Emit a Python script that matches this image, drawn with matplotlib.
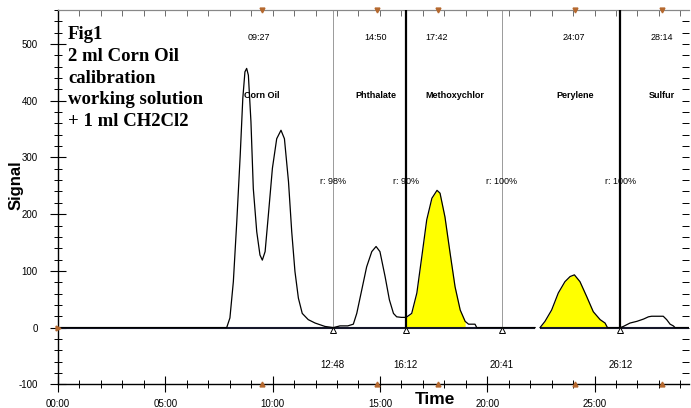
import numpy as np
import matplotlib.pyplot as plt
from matplotlib.ticker import MultipleLocator, FuncFormatter

plt.rcParams['font.family'] = ['Liberation Sans', 'DejaVu Sans']
plt.rcParams['axes.unicode_minus'] = False

# chromatogram: time (min) / signal
time_min = [0, 7.86, 8.01, 8.17, 8.33, 8.49, 8.61, 8.71, 8.79, 8.87, 8.99, 9.10,
            9.26, 9.41, 9.52, 9.65, 9.80, 9.99, 10.19, 10.39, 10.55, 10.74, 10.89,
            11.04, 11.20, 11.38, 11.66, 11.98, 12.44, 12.83, 13.14, 13.50, 13.76,
            13.92, 14.15, 14.38, 14.62, 14.82, 15.00, 15.24, 15.44, 15.63, 15.78,
            16.00, 16.22, 16.48, 16.72, 16.95, 17.18, 17.42, 17.66, 17.80, 18.03,
            18.27, 18.50, 18.74, 18.97, 19.13, 19.43, 19.51, 22.23, np.nan, 22.46,
            22.69, 23.00, 23.31, 23.62, 23.86, 24.06, 24.32, 24.63, 24.94, 25.26,
            25.49, 25.60, 26.20, 26.34, 26.65, 26.97, 27.28, 27.51, 27.66, 28.20,
            28.36, 28.52, 28.67, 28.75, 29.40]
signal = [0, 0, 17, 81, 187, 304, 404, 451, 457, 445, 363, 245,
          169, 128, 119, 134, 198, 281, 333, 348, 333, 257, 169,
          99, 52, 25, 14, 8, 2, 0, 3, 3, 6,
          25, 66, 107, 134, 143, 134, 90, 49, 25, 19,
          18, 18, 25, 61, 125, 190, 228, 242, 237, 195,
          131, 72, 31, 11, 6, 6, 0, 0, np.nan, 0,
          11, 31, 61, 81, 90, 93, 81, 55, 28, 14,
          8, 0, 0, 2, 8, 11, 15, 19, 20, 20,
          14, 6, 3, 0, 0]

peak_names = ['Corn Oil', 'Phthalate', 'Methoxychlor', 'Perylene', 'Sulfur']
peak_name_x = [9.49, 14.82, 18.5, 24.09, 28.15]
peak_times = ['09:27', '14:50', '17:42', '24:07', '28:14']
peak_time_x = [9.37, 14.8, 17.65, 24.01, 28.13]
peak_marks = [9.5, 14.85, 17.7, 24.1, 28.13]

bounds = [12.8, 16.2, 20.68, 26.2]
bound_labels = ['12:48', '16:12', '20:41', '26:12']
bound_r = ['r: 98%', 'r: 90%', 'r: 100%', 'r: 100%']
bound_heavy = [False, True, False, True]

filled = [(16.22, 18.97), (22.46, 25.6)]
baseline_parts = [(0, 22.23), (22.46, 29.4)]

t = np.array(time_min, dtype=float)
s = np.array(signal, dtype=float)

fig = plt.figure(figsize=(6.91, 4.08), dpi=100)
ax = fig.add_axes([58/691, 23.7/408, 631/691, 374.3/408])
ax.set_xlim(0, 29.4)
ax.set_ylim(-100, 560)

# yellow integrated areas
for a, b in filled:
    m = (t >= a) & (t <= b)
    ax.fill_between(t[m], 0, s[m], color='#ffff00', lw=0, zorder=2)

for a, b in baseline_parts:
    ax.hlines(0, a, b, color='#15172a', lw=1.5, zorder=3)
ax.plot(t, s, color='black', lw=0.9, zorder=4)

# integration boundaries
for x, lab, r, heavy in zip(bounds, bound_labels, bound_r, bound_heavy):
    if heavy:
        ax.vlines(x, 0, 560, color='black', lw=1.6, zorder=6)
    else:
        ax.vlines(x, 0, 560, color='#9a9a9a', lw=0.7, zorder=1)
    ax.text(x, 258, r, ha='center', va='center', fontsize=6.5, zorder=5)
    ax.text(x, -66, lab, ha='center', va='center', fontsize=7)
    ax.plot(x, -4, marker='^', ms=5, mfc='white', mec='black', mew=0.7,
            zorder=7, clip_on=False)

for x, lab in zip(peak_time_x, peak_times):
    ax.text(x, 512, lab, ha='center', va='center', fontsize=6.5)
for x, lab in zip(peak_name_x, peak_names):
    ax.text(x, 409, lab, ha='center', va='center', fontsize=6.5,
            fontweight='bold')

for x in peak_marks:
    ax.plot(x, 560, marker='v', ms=3.5, color='#b5682e', clip_on=False, zorder=8)
    ax.plot(x, -100, marker='^', ms=3.5, color='#b5682e', clip_on=False, zorder=8)
ax.plot(0, 0, marker='>', ms=3.5, color='#b5682e', clip_on=False, zorder=8)

ax.text(0.47, 531, 'Fig1\n2 ml Corn Oil\ncalibration\nworking solution\n+ 1 ml CH2Cl2',
        family='Liberation Serif', fontweight='bold', fontsize=13.5,
        va='top', ha='left', linespacing=1.36)

# axes / ticks
ax.xaxis.set_major_locator(MultipleLocator(5))
ax.xaxis.set_minor_locator(MultipleLocator(1))
ax.yaxis.set_major_locator(MultipleLocator(100))
ax.yaxis.set_minor_locator(MultipleLocator(20))
ax.xaxis.set_major_formatter(FuncFormatter(lambda v, p: '%02d:00' % int(round(v))))
ax.tick_params(which='major', direction='inout', length=11, width=0.8,
               labelsize=7, pad=5)
ax.tick_params(which='minor', direction='inout', length=6, width=0.7)
ax.tick_params(axis='y', pad=9)
ax.spines['top'].set_color('#888888')
ax.spines['right'].set_visible(False)
ax.spines['left'].set_linewidth(1.0)
ax.spines['bottom'].set_linewidth(1.0)

top = ax.secondary_xaxis('top')
top.xaxis.set_major_locator(MultipleLocator(5))
top.xaxis.set_minor_locator(MultipleLocator(1))
top.tick_params(which='both', direction='in', length=4, width=0.6,
                labeltop=False, colors='#555555')
top.spines['top'].set_color('#888888')

right = ax.secondary_yaxis('right')
right.yaxis.set_major_locator(MultipleLocator(100))
right.yaxis.set_minor_locator(MultipleLocator(20))
right.tick_params(which='both', direction='in', length=5, width=0.7,
                  labelright=False)
right.spines['right'].set_visible(False)

fig.text(16/691, 1 - 185/408, 'Signal', rotation=90, fontsize=12,
         fontweight='bold', ha='center', va='center')
fig.text(435/691, 1 - 400/408, 'Time', fontsize=12.5, fontweight='bold',
         ha='center', va='center')

fig.savefig('out.png', dpi=100)
